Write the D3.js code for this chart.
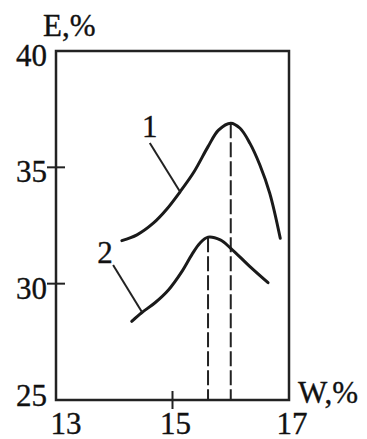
<!DOCTYPE html>
<html>
<head>
<meta charset="utf-8">
<script src="https://cdn.jsdelivr.net/npm/d3@7"></script>
<style>
  body { margin: 0; background: #fff; }
  text { font-family: "Liberation Serif", "DejaVu Serif", serif; fill: #111; stroke: #111; stroke-width: 0.35; }
</style>
</head>
<body>
<svg id="chart"></svg>
<script>
// axis ticks
const xTicks = [13, 15, 17];
const yTicks = [25, 30, 35, 40];

// curve 1 (W, E)
const curve1 = [[14.13, 31.85], [14.39, 32.1], [14.67, 32.6], [14.9, 33.2], [15.13, 33.95],
  [15.37, 34.81], [15.61, 35.89], [15.79, 36.6], [16.0, 36.9], [16.16, 36.68], [16.33, 36.03],
  [16.5, 35.1], [16.67, 33.88], [16.85, 31.95]];
// curve 2 (W, E)
const curve2 = [[14.3, 28.38], [14.47, 28.75], [14.7, 29.18], [14.93, 29.73], [15.16, 30.52],
  [15.33, 31.24], [15.47, 31.74], [15.61, 32.0], [15.82, 31.88], [16.0, 31.52], [16.33, 30.73],
  [16.64, 30.04]];

// peaks marked with dashed drop lines
const peakW = [16.0, 15.61];
const peakE = [36.9, 32.0];

// curve labels with their leader lines
const labelText = ["1", "2"];
const labelAt = [[14.61, 36.3], [13.84, 30.9]];
const leaderFrom = [[14.61, 36.05], [13.98, 30.8]];
const leaderTo = [[15.13, 33.95], [14.47, 28.8]];

const W = 367, H = 439;
const svg = d3.select("#chart").attr("width", W).attr("height", H);

const x = d3.scaleLinear().domain([13, 17]).range([56, 289]);
const y = d3.scaleLinear().domain([25, 40]).range([400, 51]);

// frame
svg.append("rect")
  .attr("x", x(13)).attr("y", y(40))
  .attr("width", x(17) - x(13)).attr("height", y(25) - y(40))
  .attr("fill", "none").attr("stroke", "#222").attr("stroke-width", 2.5);

// inner ticks (crossing the frame)
svg.selectAll(".ytick")
  .data(yTicks.filter(d => d !== 25 && d !== 40))
  .enter().append("line")
  .attr("x1", x(13) - 9).attr("x2", x(13) + 9)
  .attr("y1", d => y(d)).attr("y2", d => y(d))
  .attr("stroke", "#222").attr("stroke-width", 2);

svg.selectAll(".xtick")
  .data(xTicks.filter(d => d !== 13 && d !== 17))
  .enter().append("line")
  .attr("x1", d => x(d)).attr("x2", d => x(d))
  .attr("y1", y(25) - 9).attr("y2", y(25) + 9)
  .attr("stroke", "#222").attr("stroke-width", 2);

// tick labels
svg.selectAll(".ylab")
  .data(yTicks)
  .enter().append("text")
  .attr("x", x(13) - 9)
  .attr("y", d => y(d) + (d === 25 ? 6 : 15))
  .attr("text-anchor", "end")
  .attr("font-size", 31)
  .text(d => d);

svg.selectAll(".xlab")
  .data(xTicks)
  .enter().append("text")
  .attr("x", d => x(d) + (d === 13 ? 10 : 3))
  .attr("y", y(25) + 34)
  .attr("text-anchor", "middle")
  .attr("font-size", 31)
  .text(d => d);

// axis titles
svg.append("text").attr("x", 43).attr("y", 36)
  .attr("font-size", 31).text("E,%");
svg.append("text").attr("x", 298).attr("y", 403)
  .attr("font-size", 31).text("W,%");

// dashed drop lines
svg.selectAll(".drop")
  .data(peakW)
  .enter().append("line")
  .attr("x1", d => x(d)).attr("x2", d => x(d))
  .attr("y1", (d, i) => y(peakE[i])).attr("y2", y(25))
  .attr("stroke", "#222").attr("stroke-width", 2)
  .attr("stroke-dasharray", "15,4");

// curves
const line = d3.line()
  .x(d => x(d[0])).y(d => y(d[1]))
  .curve(d3.curveCatmullRom.alpha(0.5));

svg.selectAll(".curve")
  .data([curve1, curve2])
  .enter().append("path")
  .attr("d", line)
  .attr("fill", "none").attr("stroke", "#1a1a1a").attr("stroke-width", 3)
  .attr("stroke-linecap", "round");

// leaders and labels
svg.selectAll(".leader")
  .data(leaderFrom)
  .enter().append("line")
  .attr("x1", d => x(d[0])).attr("y1", d => y(d[1]))
  .attr("x2", (d, i) => x(leaderTo[i][0])).attr("y2", (d, i) => y(leaderTo[i][1]))
  .attr("stroke", "#222").attr("stroke-width", 2);

svg.selectAll(".clab")
  .data(labelText)
  .enter().append("text")
  .attr("x", (d, i) => x(labelAt[i][0]))
  .attr("y", (d, i) => y(labelAt[i][1]))
  .attr("text-anchor", "middle")
  .attr("font-size", 31)
  .text(d => d);
</script>
</body>
</html>
